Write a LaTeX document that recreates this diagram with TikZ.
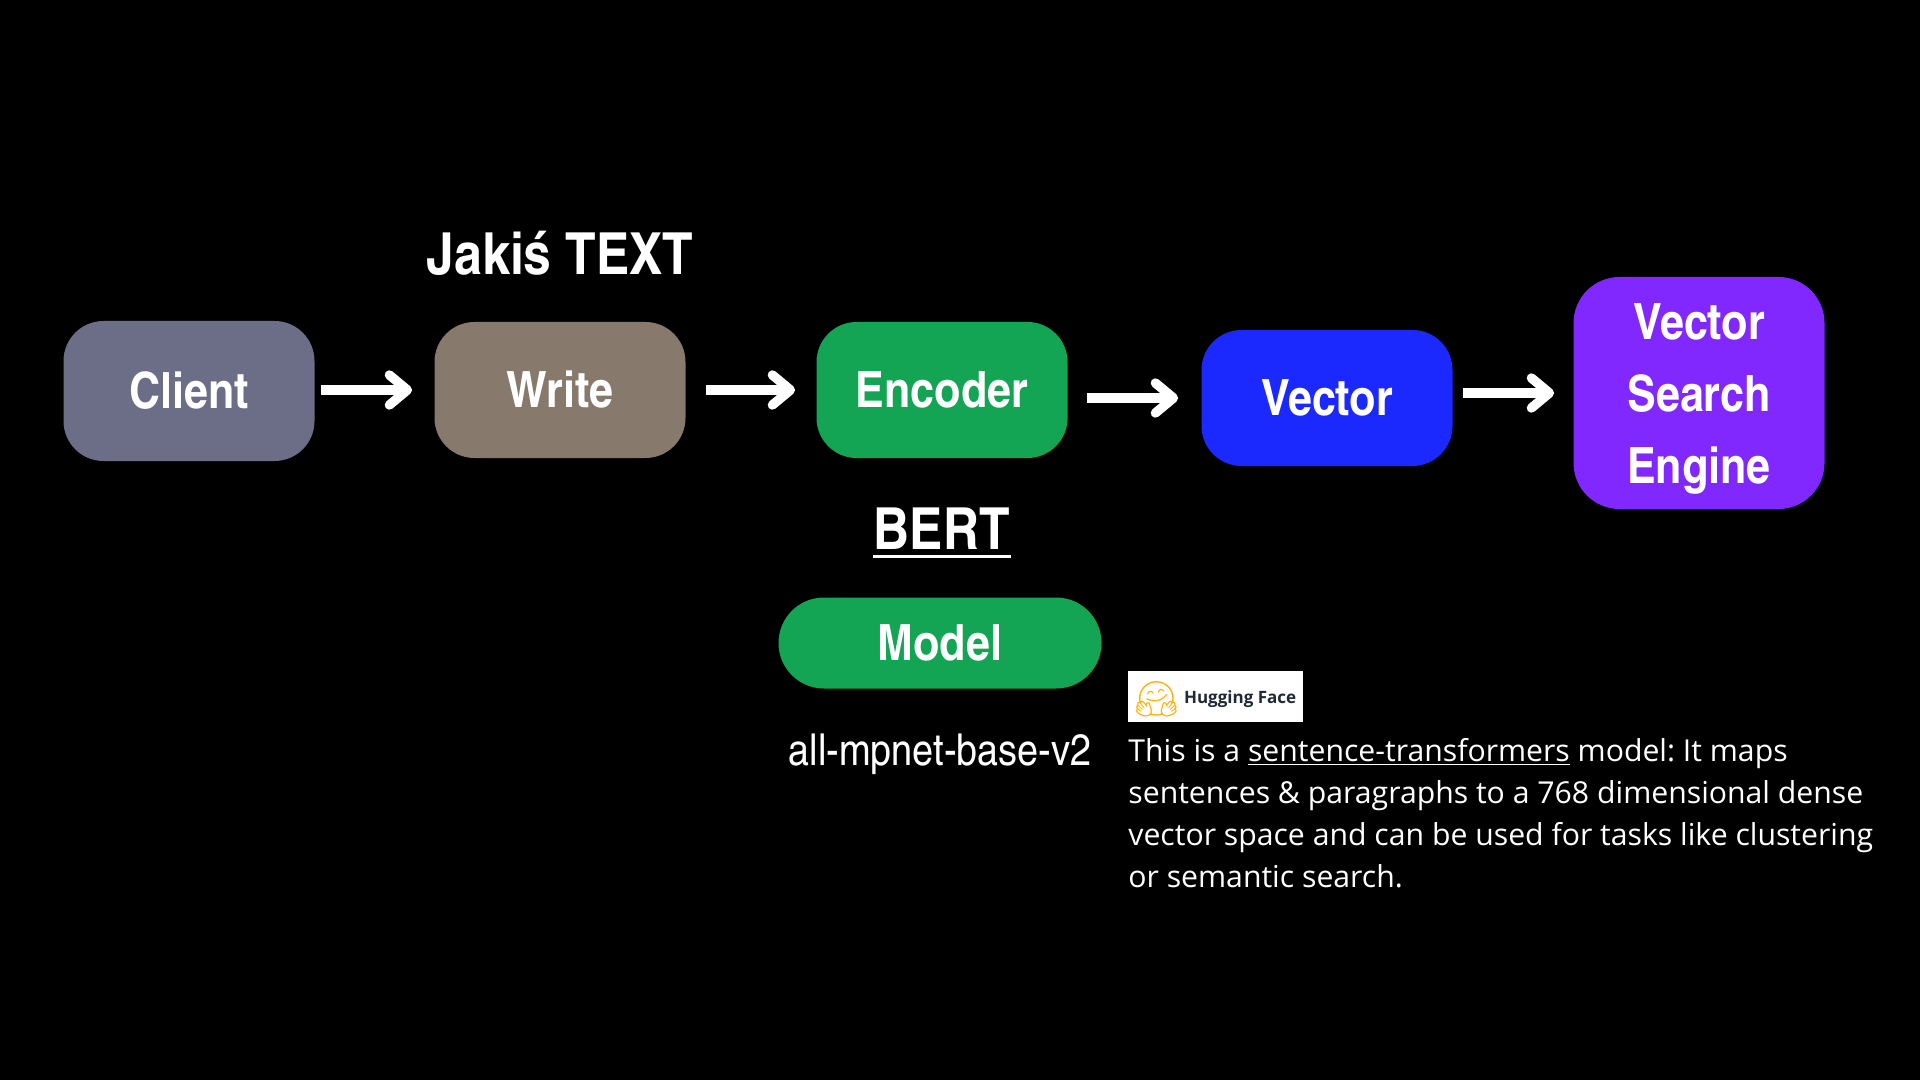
\documentclass[tikz,border=0pt]{standalone}
\usepackage{fontspec}
\setmainfont{Open Sans}
\newfontfamily\condfont{texgyreheroscn}[Extension=.otf,UprightFont=*-regular,BoldFont=*-bold,FakeStretch=1.05]
\newfontfamily\emojifont{Noto Emoji}
\usetikzlibrary{arrows.meta}
\definecolor{clientgray}{HTML}{6C6E88}
\definecolor{writebrown}{HTML}{87796C}
\definecolor{encgreen}{HTML}{14A554}
\definecolor{vecblue}{HTML}{1B29FF}
\definecolor{enginepurple}{HTML}{8028FF}
\definecolor{hfnavy}{HTML}{1F2937}
\definecolor{hfyellow}{HTML}{FFB000}
\frenchspacing

\begin{document}
\begin{tikzpicture}[x=0.5pt,y=-0.5pt,
    stagebox/.style={rounded corners=20pt,minimum width=125.5pt,minimum height=68pt,
      text=white,align=center,inner sep=0pt,
      font=\condfont\bfseries\fontsize{25}{36}\selectfont},
    label/.style={text=white,inner sep=0pt},
    flow/.style={white,line width=4.7pt,-{Straight Barb[length=9pt,width=15pt,round]}}]
    \fill[black] (0,0) rectangle (1920,1080);
    \useasboundingbox (0,0) rectangle (1920,1080);

    \node[stagebox,fill=clientgray,minimum height=70pt] (client) at (189,391) {Client};
    \node[stagebox,fill=writebrown] (write) at (560,390) {Write};
    \node[stagebox,fill=encgreen] (encoder) at (942,390) {Encoder};
    \node[stagebox,fill=vecblue] (vector) at (1327,398) {Vector};
    \node[stagebox,fill=enginepurple,minimum height=116pt,rounded corners=23pt] (engine) at (1699,393)
        {\rule{0pt}{23.5pt}Vector\\Search\\Engine};

    \foreach \a/\b/\s/\e in {client/write/3/11,write/encoder/10/10.5,encoder/vector/9.5/11.5,vector/engine/5/9.5}
        \draw[flow,shorten <=\s pt,shorten >=\e pt] (\a.east |- \b.west) -- (\b.west);

    \node[label,anchor=base,font=\condfont\bfseries\fontsize{29}{34}\selectfont] (text) at (560,275) {Jakiś TEXT};
    \node[label,anchor=base,font=\condfont\bfseries\fontsize{29}{34}\selectfont] (bert) at (942,549) {BERT};
    \draw[white,line width=1.8pt] ([yshift=-3.75pt]bert.base west) -- ([yshift=-3.75pt]bert.base east);

    \node[stagebox,fill=encgreen,minimum width=161.5pt,minimum height=45.5pt,rounded corners=22.7pt] (model)
        at (940,643) {Model};
    \node[label,anchor=base,font=\condfont\fontsize{22}{25}\selectfont] (mpnet) at (940,765) {all-mpnet-base-v2};

    \node[fill=white,minimum width=87.5pt,minimum height=25.5pt,inner sep=0pt,text=hfnavy,
        font=\bfseries\fontsize{8.5}{10}\selectfont] (hf) at (1215.5,696.5)
        {\smash{\raisebox{-3.5pt}{\emojifont\fontsize{17}{17}\selectfont\textcolor{hfyellow}{🤗}}}\hspace{3pt}\rule{0pt}{9pt}Hugging Face};
    \node[label,anchor=north west,align=left,font=\fontsize{15.1}{21}\selectfont] (about) at (1128,737.5)
        {This is a \underline{sentence-transformers} model: It maps\\
         sentences \& paragraphs to a 768 dimensional dense\\
         vector space and can be used for tasks like clustering\\
         or semantic search.};
\end{tikzpicture}
\end{document}
